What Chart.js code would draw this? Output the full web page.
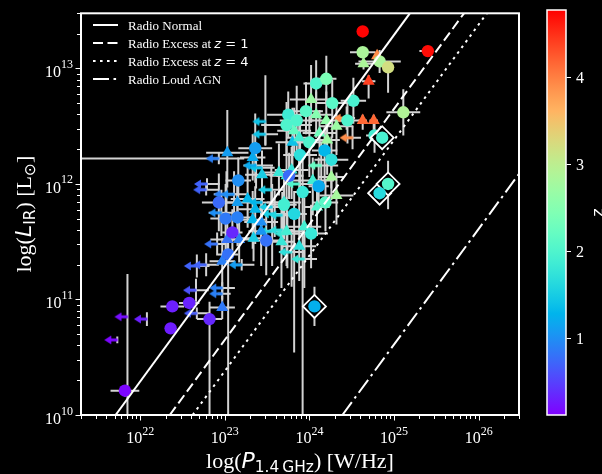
<!DOCTYPE html>
<html><head><meta charset="utf-8">
<script src="https://cdn.jsdelivr.net/npm/chart.js@4.4.0/dist/chart.umd.min.js"></script>
<style>html,body{margin:0;padding:0;background:#000;overflow:hidden}#wrap{width:602px;height:474px}</style>
</head><body><div id="wrap"><canvas id="c" width="602" height="474"></canvas></div>
<script>
// ---------- axis ranges & tick labels ----------
const X_MIN = 2e21, X_MAX = 3e26, Y_MIN = 1e10, Y_MAX = 3e13;
const xMajorExp = [22, 23, 24, 25, 26];
const yMajorExp = [10, 11, 12, 13];
const cbarTicks = [1, 2, 3, 4];
const zMin = 0.118, zMax = 4.77;

// ---------- relations: log L_IR = log P - offset ----------
const relNames = ['Radio Normal', 'Radio Excess at z = 1', 'Radio Excess at z = 4', 'Radio Loud AGN'];
const relOffsets = [11.71, 12.35, 12.62, 14.39];

// ---------- circles (detections) : log P, log L, z, errors (dex) ----------
const cP = [21.82,22.38,22.58,22.36,22.82,23.09,23.04,22.93,23.01,23.15,23.16,23.36,23.49,23.76,24.11,24.18,24.26,23.75,23.73,23.85,23.96,24.08,24.20,24.27,24.52,24.45,24.63,25.40,24.63,24.83,24.93,25.11,23.89,23.70,23.82,24.77,23.92,24.02,24.19,24.00];
const cL = [10.21,10.94,10.97,10.75,10.83,11.58,11.39,11.84,11.70,11.71,12.03,12.31,11.51,12.07,11.98,12.29,12.21,12.60,12.51,12.55,12.63,12.87,12.91,12.70,12.72,12.55,13.32,13.15,13.14,13.06,13.01,12.62,12.25,11.82,11.74,12.42,11.93,11.57,11.84,12.36];
const cZ = [0.15,0.30,0.32,0.28,0.35,0.35,0.80,0.75,0.85,0.90,1.00,1.10,0.80,0.75,1.20,1.30,1.70,1.85,2.00,2.00,2.10,2.00,2.40,2.10,1.95,2.00,4.75,4.70,2.85,2.85,3.20,2.90,1.70,1.90,1.60,1.90,1.80,1.80,2.10,2.00];
const cXL = [.17,.14,.12,0,.15,.12,.12,.2,.18,.2,.15,.2,.2,.15,.12,.15,.2,.25,.3,.2,.2,.15,.12,.2,.15,.15,0,.1,.15,.25,.05,.2,.2,.15,.15,.1,.1,.2,.15,.2];
const cXH = [.17,.14,.12,0,.15,.12,.12,.2,.18,.2,.15,.2,.2,.15,.12,.15,.2,.25,.3,.2,.2,.15,.12,.2,.15,.15,0,0,.15,.25,.05,.2,.2,.15,.15,.1,.1,.2,.15,.2];
const cYL = [.05,.03,.04,0,.83,.2,1.39,.25,.3,.25,.2,.3,.3,.2,.2,.3,.25,.2,.25,.3,.2,.15,.2,.3,.2,.2,0,0,.03,.1,.22,.2,.3,.3,1.2,.15,1.93,.3,.25,.3];
const cYH = [.05,.03,.04,0,.15,.2,.1,.25,.3,.3,.2,.3,.25,.2,.25,.2,.2,.2,.2,.3,.25,.2,.2,.2,.2,.15,0,0,.03,.1,.05,.2,.3,.2,.2,.1,.3,.25,.2,.3];

// ---------- diamonds (highlighted sources) ----------
const dP = [24.06,24.83,24.93,24.86];
const dL = [10.94,11.92,12.00,12.40];
const dZ = [1.25,1.65,2.05,1.95];
const dXE = [.05,.05,.03,.05];
const dYL = [.17,.1,.22,.1];
const dYH = [.17,.1,.2,.1];

// ---------- triangles ----------
const tP = [22.97,23.03,23.33,23.44,23.27,23.15,23.36,23.33,23.43,23.43,23.03,23.17,23.34,22.97,23.64,23.73,23.80,24.04,24.26,24.32,23.70,23.67,23.73,24.02,24.08,24.20,24.32,24.21,24.64,24.70,24.63,24.76,23.82,24.80,23.79,23.94,24.09,23.88,24.12,23.88];
const tL = [10.93,12.27,12.23,12.08,11.87,11.84,11.78,11.69,11.67,11.59,11.52,11.52,11.53,11.33,12.10,12.07,12.36,12.03,12.06,11.90,11.84,11.50,11.59,12.73,12.60,12.55,12.50,12.38,13.04,12.89,12.55,12.55,12.46,13.11,12.12,11.63,11.80,11.46,12.44,12.40];
const tZ = [0.85,1.10,1.20,1.50,1.30,1.10,1.30,1.30,1.00,1.05,0.80,0.90,1.50,0.90,1.80,1.80,1.40,1.90,2.80,2.80,1.80,1.80,1.90,2.70,2.50,2.60,2.70,2.70,2.85,4.40,4.15,4.15,2.20,3.90,1.75,1.90,2.00,1.70,2.30,1.90];
const tXE = [.15,.25,.15,.2,.2,.15,.2,.15,.2,.15,.2,.2,.15,.15,.2,.2,.2,.25,.15,.2,.2,.15,.2,.25,.2,.2,.2,.15,.1,.08,.05,.05,.2,.03,.2,.2,.15,.2,.2,.15];
const tYL = [.1,.3,.2,.2,.25,.2,.3,.25,.2,.3,.2,.2,.2,.25,.2,.3,.3,.3,.2,.25,.2,.4,.3,.2,.2,.3,.25,.3,.05,.15,.08,.08,.2,.03,.25,.3,.25,.3,.2,.25];
const tYH = [.1,.37,.2,.2,.3,.2,.2,.25,.2,.2,.2,.2,.2,.2,.25,.3,.3,.2,.2,.2,.2,.3,.3,.3,.2,.25,.2,.2,.05,.05,.05,.05,.2,.03,.2,.25,.2,.3,.2,.2];

// ---------- arrows (upper limits in P) ----------
const aP = [21.73,21.85,22.08,22.66,22.67,22.67,22.78,22.97,22.97,23.20,22.91,22.79,22.78,22.93,23.02,23.11,22.96,23.48,23.48,23.44,23.44,23.56,23.59,23.68,23.55,23.56,23.68,23.74,24.14,23.88,24.44,24.51,23.37,23.79,23.94];
const aL = [10.65,10.85,10.83,11.08,10.88,11.29,11.30,11.10,11.05,11.30,11.48,12.00,11.95,12.22,11.91,11.91,11.75,12.54,12.43,12.14,11.84,11.80,11.74,11.73,11.95,11.59,11.60,11.57,12.16,12.00,12.57,12.40,12.16,11.41,11.35];
const aZ = [0.15,0.20,0.30,0.60,0.65,0.70,0.70,0.90,0.90,1.10,0.80,0.70,0.70,0.90,0.90,1.00,1.00,1.40,1.40,1.40,1.30,1.50,1.50,1.60,1.50,1.60,1.70,1.80,2.20,2.00,3.90,3.90,1.20,1.70,1.80];
const aXL = [0,0,0,.1,.1,.1,.1,.1,.05,.1,.1,.1,.1,1.7,.15,.15,.15,0,.1,.1,.15,.15,.1,.1,.15,.1,.15,.1,.15,.15,.1,.1,.15,.15,.1];
const aXH = [0,0,0,.15,.15,.15,.15,.15,.1,.15,.1,.15,.15,.3,.15,.15,.2,0,.15,.15,.2,.15,.15,.1,.15,.15,.15,.15,.2,.15,.1,.1,.2,.15,.15];
const aYL = [.03,.85,.06,.1,.05,.1,.1,.05,.05,.05,.1,.05,.05,.05,.2,.2,.2,.2,.1,.15,.2,.2,.2,.3,.2,.3,.2,.3,.2,.3,.1,.1,.2,.3,.25];
const aYH = [.03,.37,.06,.1,.05,.1,.1,.05,.05,.05,.1,.05,.05,.05,.2,.2,.2,.4,.1,.15,.2,.2,.2,.2,.2,.3,.2,.2,.2,.2,.1,.1,.2,.2,.2];

// ---------- helpers ----------
function rainbow(t) {
  t = Math.min(1, Math.max(0, t));
  const r = Math.min(1, Math.abs(2 * t - 0.5));
  const g = Math.sin(Math.PI * t);
  const b = Math.cos(Math.PI * t / 2);
  return `rgb(${Math.round(r*255)},${Math.round(g*255)},${Math.round(b*255)})`;
}
const zColor = z => rainbow((z - zMin) / (zMax - zMin));
function pts(P, L, Z, XL, XH, YL, YH) {
  return P.map((p, i) => ({ x: Math.pow(10, p), y: Math.pow(10, L[i]), z: Z[i],
    e: [XL[i] || 0, XH[i] || 0, YL[i] || 0, YH[i] || 0] }));
}
const arrowCache = {};
function arrowImg(col) {
  if (arrowCache[col]) return arrowCache[col];
  const cv = document.createElement('canvas'); cv.width = 28; cv.height = 14;
  const g = cv.getContext('2d');
  g.strokeStyle = col; g.fillStyle = col; g.lineWidth = 3;
  g.beginPath(); g.moveTo(14.5, 7); g.lineTo(5, 7); g.stroke();
  g.beginPath(); g.moveTo(1, 7); g.lineTo(8, 2.5); g.lineTo(8, 11.5); g.closePath(); g.fill();
  arrowCache[col] = cv; return cv;
}
function relLine(off) {
  const lx0 = Math.log10(X_MIN), lx1 = Math.log10(X_MAX), ly0 = Math.log10(Y_MIN), ly1 = Math.log10(Y_MAX);
  const a = Math.max(lx0, ly0 + off), b = Math.min(lx1, ly1 + off);
  return [{ x: Math.pow(10, a), y: Math.pow(10, a - off) }, { x: Math.pow(10, b), y: Math.pow(10, b - off) }];
}
const relDash = [[], [10, 4.5], [2.6, 4.4], [16, 4.5, 2.6, 4.5]];

function drawRuns(ctx, runs, x, y, align) {
  let w = 0;
  runs.forEach(r => { ctx.font = r.f; r.w = ctx.measureText(r.t).width; w += r.w; });
  let cx = align === 'center' ? x - w / 2 : (align === 'right' ? x - w : x);
  ctx.textAlign = 'left'; ctx.textBaseline = 'alphabetic';
  runs.forEach(r => { ctx.font = r.f; ctx.fillText(r.t, cx, y + (r.dy || 0)); cx += r.w; });
}
const SERIF = '"Liberation Serif", "Times New Roman", serif';
const SANS = '"DejaVu Sans", sans-serif';

// ---------- plugins ----------
const bgPlugin = { id: 'bg', beforeDraw(c) { const g = c.ctx; g.save(); g.fillStyle = '#000'; g.fillRect(0, 0, c.width, c.height); g.restore(); } };

const errPlugin = {
  id: 'errbars',
  beforeDatasetsDraw(c) {
    const g = c.ctx, xs = c.scales.x, ys = c.scales.y, a = c.chartArea;
    g.save(); g.beginPath(); g.rect(a.left, a.top, a.right - a.left, a.bottom - a.top); g.clip();
    g.strokeStyle = '#d3d3d3'; g.lineWidth = 2;
    c.data.datasets.forEach(ds => {
      if (!ds.errs) return;
      ds.data.forEach(d => {
        const [xl, xh, yl, yh] = d.e;
        const px = xs.getPixelForValue(d.x), py = ys.getPixelForValue(d.y);
        g.beginPath();
        if (xl || xh) { g.moveTo(xs.getPixelForValue(d.x / Math.pow(10, xl)), py); g.lineTo(xs.getPixelForValue(d.x * Math.pow(10, xh)), py); }
        if (yl || yh) { g.moveTo(px, ys.getPixelForValue(d.y / Math.pow(10, yl))); g.lineTo(px, ys.getPixelForValue(d.y * Math.pow(10, yh))); }
        g.stroke();
      });
    });
    g.restore();
  }
};

const decoPlugin = {
  id: 'deco',
  afterDraw(c) {
    const g = c.ctx, xs = c.scales.x, ys = c.scales.y, a = c.chartArea;
    g.save();
    // frame
    g.strokeStyle = '#fff'; g.lineWidth = 2;
    g.strokeRect(a.left, a.top, a.right - a.left, a.bottom - a.top);
    // ticks
    g.lineWidth = 1; g.strokeStyle = '#fff'; g.fillStyle = '#fff';
    for (let e = 21; e <= 26; e++) for (let k = 1; k <= 9; k++) {
      const v = k * Math.pow(10, e); if (v < X_MIN * 0.999 || v > X_MAX * 1.001) continue;
      const px = Math.round(xs.getPixelForValue(v)) + 0.5, len = k === 1 ? 4.5 : 3;
      g.beginPath(); g.moveTo(px, a.bottom + 1); g.lineTo(px, a.bottom + 1 + len); g.stroke();
    }
    for (let e = 10; e <= 13; e++) for (let k = 1; k <= 9; k++) {
      const v = k * Math.pow(10, e); if (v < Y_MIN * 0.999 || v > Y_MAX * 1.001) continue;
      const py = Math.round(ys.getPixelForValue(v)) + 0.5, len = k === 1 ? 4.5 : 3;
      g.beginPath(); g.moveTo(a.left - 1, py); g.lineTo(a.left - 1 - len, py); g.stroke();
    }
    // tick labels
    xMajorExp.forEach(e => {
      const px = xs.getPixelForValue(Math.pow(10, e));
      drawRuns(g, [{ t: '10', f: '16px ' + SERIF }, { t: String(e), f: '12px ' + SERIF, dy: -8.5 }], px, 443, 'center');
    });
    yMajorExp.forEach(e => {
      const py = ys.getPixelForValue(Math.pow(10, e));
      drawRuns(g, [{ t: '10', f: '16px ' + SERIF }, { t: String(e), f: '12px ' + SERIF, dy: -9.5 }], 73, py + 9, 'right');
    });
    // axis titles
    drawRuns(g, [
      { t: 'log(', f: '22px ' + SERIF }, { t: 'P', f: 'italic 22px ' + SANS },
      { t: '1.4\u2009GHz', f: '15.4px ' + SANS, dy: 4 }, { t: ') [W/Hz]', f: '22px ' + SERIF }
    ], (a.left + a.right) / 2, 468, 'center');
    g.save(); g.translate(31, (a.top + a.bottom) / 2); g.rotate(-Math.PI / 2);
    drawRuns(g, [
      { t: 'log(', f: '22px ' + SERIF }, { t: 'L', f: 'italic 22px ' + SANS },
      { t: 'IR', f: '15.4px ' + SANS, dy: 3.5 }, { t: ') [L', f: '22px ' + SERIF },
      { t: '\u2299', f: '15.4px ' + SANS, dy: 3.5 }, { t: ']', f: '22px ' + SERIF }
    ], 0, 0, 'center');
    g.restore();
    // legend
    relNames.forEach((name, i) => {
      const y = 25 + 18 * i;
      g.save(); g.strokeStyle = '#fff'; g.lineWidth = 2; g.setLineDash(relDash[i]);
      g.beginPath(); g.moveTo(93, y); g.lineTo(118, y); g.stroke(); g.restore();
      const m = name.match(/^(.*at )z( = \d)$/);
      if (m) drawRuns(g, [{ t: m[1], f: '13px ' + SERIF }, { t: 'z', f: 'italic 13px ' + SANS }, { t: m[2], f: '13px ' + SANS }], 128, y + 4.5, 'left');
      else drawRuns(g, [{ t: name, f: '13px ' + SERIF }], 128, y + 4.5, 'left');
    });
    // colorbar
    const cbL = 547, cbR = 566, cbT = 10, cbB = 415;
    const zy = z => cbB - (z - zMin) / (zMax - zMin) * (cbB - cbT);
    const grad = g.createLinearGradient(0, cbB, 0, cbT);
    for (let i = 0; i <= 40; i++) grad.addColorStop(i / 40, rainbow(i / 40));
    g.fillStyle = grad; g.fillRect(cbL, cbT, cbR - cbL, cbB - cbT);
    g.strokeStyle = '#fff'; g.lineWidth = 1.5; g.strokeRect(cbL, cbT, cbR - cbL, cbB - cbT);
    g.fillStyle = '#fff'; g.lineWidth = 1;
    cbarTicks.forEach(v => {
      const y = Math.round(zy(v)) + 0.5;
      g.beginPath(); g.moveTo(cbR + 0.5, y); g.lineTo(cbR + 5, y); g.stroke();
      drawRuns(g, [{ t: String(v), f: '16px ' + SERIF }], 576, y + 5.5, 'left');
    });
    g.save(); g.translate(603, (cbT + cbB) / 2); g.rotate(-Math.PI / 2);
    drawRuns(g, [{ t: 'z', f: '16px ' + SANS }], 0, 0, 'center');
    g.restore();
    g.restore();
  }
};

// ---------- datasets ----------
const lineSets = relOffsets.map((off, i) => ({
  label: relNames[i], data: relLine(off), showLine: true, borderColor: '#fff', borderWidth: 2,
  borderDash: relDash[i], pointRadius: 0, order: 0, fill: false
}));
const colorFn = ctx => (ctx.raw ? zColor(ctx.raw.z) : '#888');

const datasets = [
  { label: 'arrows', data: pts(aP, aL, aZ, aXL, aXH, aYL, aYH), errs: true, order: 4,
    pointStyle: ctx => (ctx.raw ? arrowImg(zColor(ctx.raw.z)) : 'circle'), pointRadius: 6, pointBorderWidth: 0,
    pointBackgroundColor: colorFn },
  { label: 'triangles', data: pts(tP, tL, tZ, tXE, tXE, tYL, tYH), errs: true, order: 3,
    pointStyle: 'triangle', pointRadius: 7, pointBorderWidth: 0, pointBackgroundColor: colorFn, pointBorderColor: colorFn },
  { label: 'circles', data: pts(cP, cL, cZ, cXL, cXH, cYL, cYH), errs: true, order: 2,
    pointStyle: 'circle', pointRadius: 6.2, pointBorderWidth: 0, pointBackgroundColor: colorFn },
  { label: 'diamondFrame', data: pts(dP, dL, dZ, dXE, dXE, dYL, dYH), errs: true, order: 1.6,
    pointStyle: 'rectRot', pointRadius: 11.5, pointBorderWidth: 1.8, pointBorderColor: '#fff', pointBackgroundColor: '#000' },
  { label: 'diamondPts', data: pts(dP, dL, dZ, dXE, dXE, dYL, dYH), order: 1.5,
    pointStyle: 'circle', pointRadius: 6.2, pointBorderWidth: 0, pointBackgroundColor: colorFn },
  ...lineSets
];

new Chart(document.getElementById('c'), {
  type: 'scatter',
  data: { datasets },
  options: {
    responsive: false, animation: false, devicePixelRatio: 1, events: [],
    layout: { padding: { left: 81, right: 83, top: 9, bottom: 59 } },
    scales: {
      x: { type: 'logarithmic', min: X_MIN, max: X_MAX, display: false },
      y: { type: 'logarithmic', min: Y_MIN, max: Y_MAX, display: false }
    },
    plugins: { legend: { display: false }, tooltip: { enabled: false } }
  },
  plugins: [bgPlugin, errPlugin, decoPlugin]
});
</script></body></html>
